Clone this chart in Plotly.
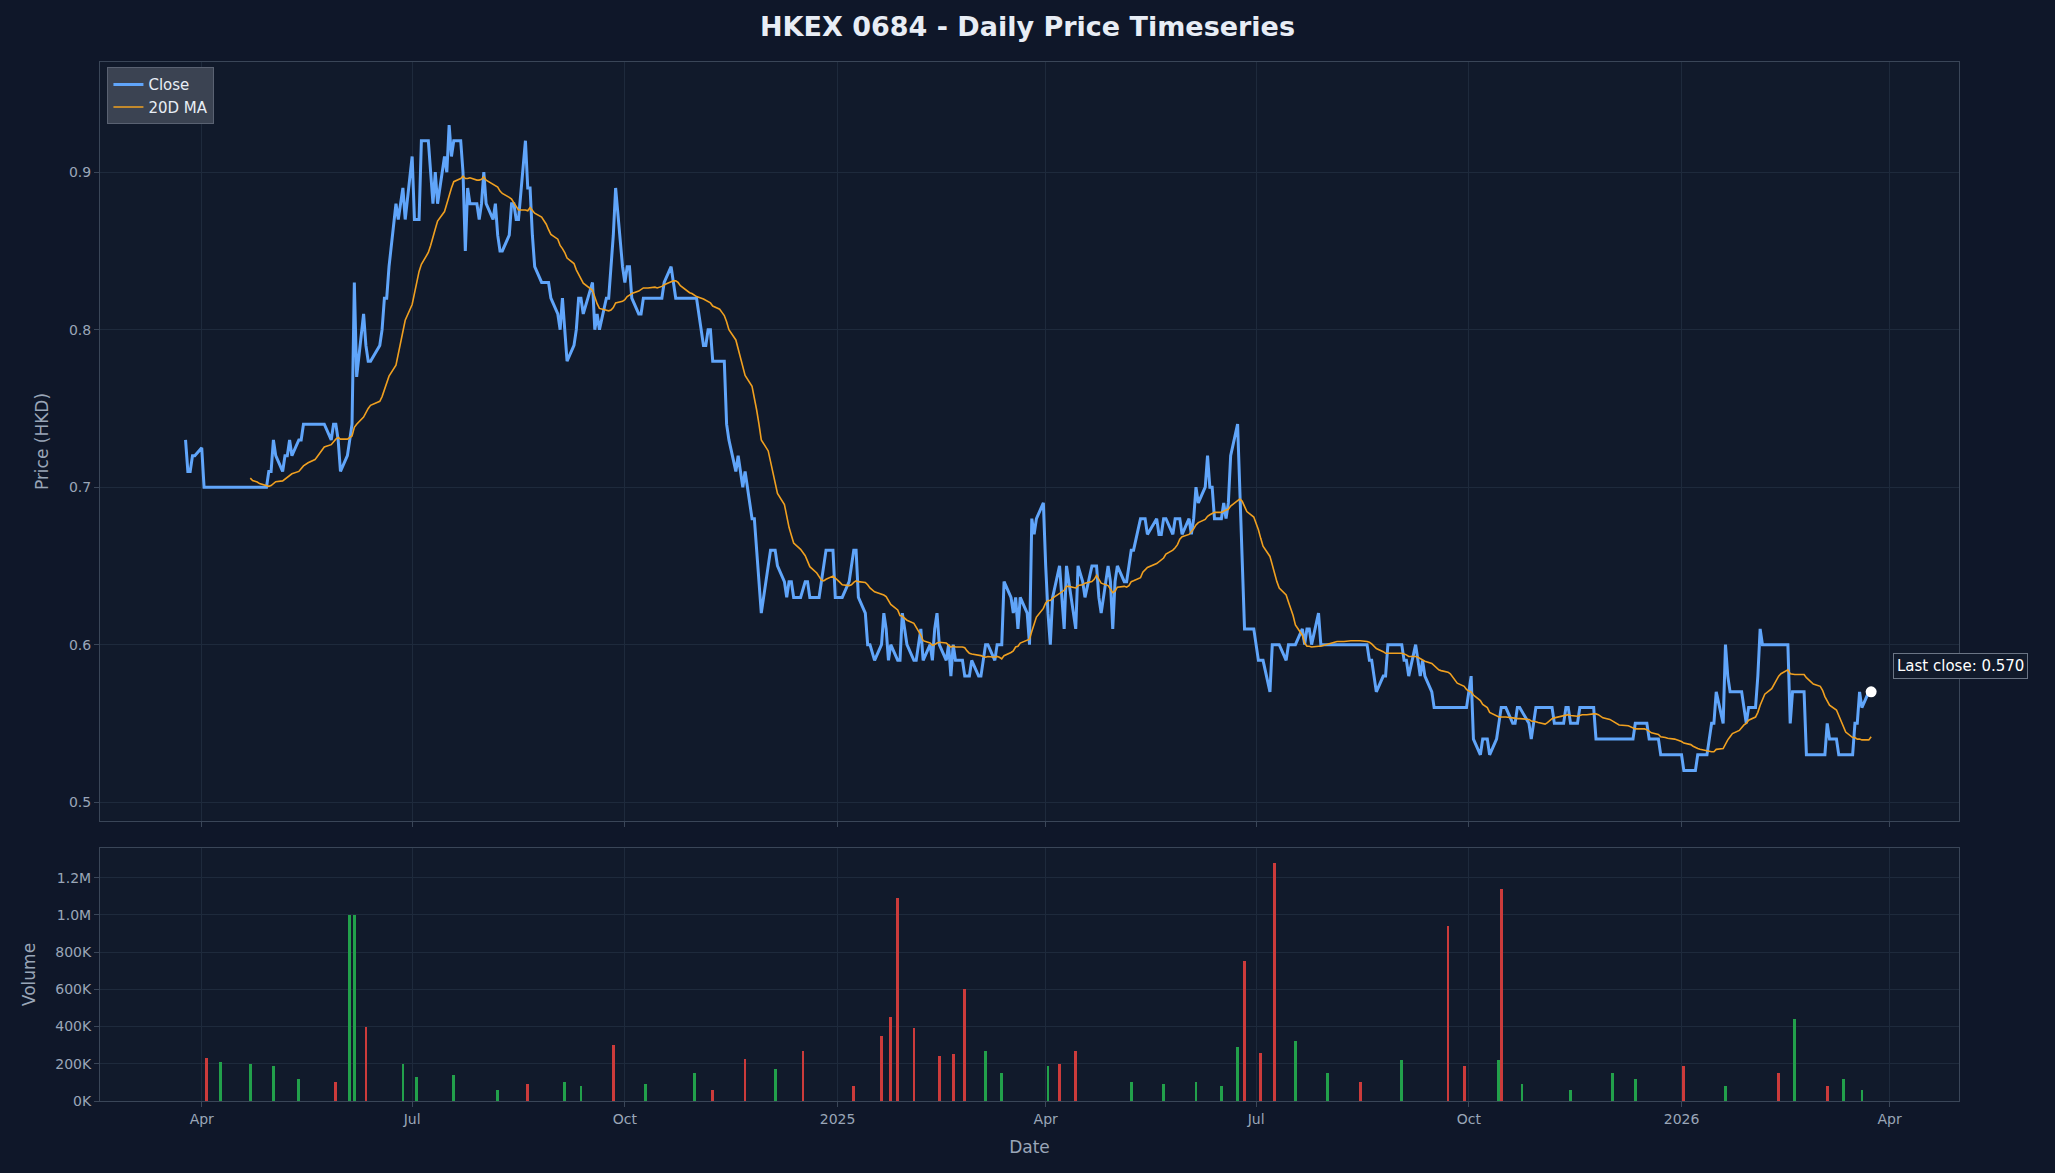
import pandas as pd
import numpy as np
import plotly.graph_objects as go
from plotly.subplots import make_subplots

# monthly blocks of daily closes (HKD)
months = ["2024-03","2024-04","2024-05","2024-06","2024-07","2024-08","2024-09","2024-10","2024-11","2024-12",
          "2025-01","2025-02","2025-03","2025-04","2025-05","2025-06","2025-07","2025-08","2025-09","2025-10","2025-11","2025-12",
          "2026-01","2026-02","2026-03"]
closes = [
 [0.73,0.71,0.71,0.72,0.72],
 [0.725,0.70]+[0.70]*18+[0.71],
 [0.71,0.73,0.72,0.71,0.72,0.72,0.73,0.72,0.73,0.73,0.74,0.74,0.74,0.74,0.74,0.74,0.74,0.73,0.74,0.74,0.73,0.71],
 [0.72,0.73,0.74,0.83,0.77,0.81,0.79,0.78,0.78,0.79,0.80,0.82,0.82,0.84,0.88,0.87,0.88,0.89,0.87],
 [0.91,0.87,0.87,0.87,0.92,0.92,0.90,0.88,0.90,0.88,0.91,0.90,0.93,0.91,0.92,0.92,0.90,0.85,0.89,0.88,0.88,0.87,0.88],
 [0.90,0.88,0.87,0.88,0.86,0.85,0.85,0.86,0.88,0.88,0.87,0.87,0.92,0.89,0.89,0.86,0.84,0.83,0.83,0.83,0.83,0.82],
 [0.81,0.80,0.82,0.80,0.78,0.79,0.80,0.82,0.82,0.81,0.83,0.80,0.81,0.80,0.82,0.82,0.84,0.86,0.89,0.84],
 [0.83,0.84,0.84,0.82,0.81,0.81,0.82,0.82,0.82,0.82,0.82,0.82,0.83,0.84,0.83,0.82,0.82,0.82,0.82,0.82,0.82,0.82],
 [0.82,0.79,0.79,0.80,0.80,0.78,0.78,0.78,0.78,0.74,0.73,0.71,0.72,0.71,0.70,0.71,0.68,0.68,0.66,0.64,0.62],
 [0.65,0.66,0.66,0.66,0.65,0.64,0.63,0.64,0.64,0.63,0.63,0.64,0.64,0.63,0.63,0.63,0.64,0.65,0.66,0.66,0.63],
 [0.63,0.63,0.63,0.64,0.65,0.66,0.66,0.63,0.62,0.60,0.60,0.59,0.60,0.62,0.61,0.59,0.60,0.59,0.59,0.62,0.61,0.60],
 [0.59,0.59,0.60,0.61,0.59,0.60,0.59,0.61,0.62,0.60,0.59,0.60,0.58,0.60,0.59,0.59,0.58,0.58,0.58,0.59],
 [0.58,0.58,0.59,0.60,0.60,0.59,0.60,0.60,0.60,0.64,0.63,0.62,0.63,0.61,0.63,0.62,0.60,0.68,0.67,0.68,0.69],
 [0.65,0.62,0.60,0.63,0.65,0.63,0.61,0.65,0.64,0.61,0.65,0.64,0.63,0.65,0.65,0.65,0.63,0.62,0.65,0.64,0.61],
 [0.64,0.65,0.64,0.64,0.65,0.66,0.66,0.68,0.68,0.68,0.67,0.68,0.67,0.67,0.68,0.68,0.67,0.68,0.68,0.68,0.67],
 [0.68,0.67,0.68,0.70,0.69,0.70,0.72,0.70,0.70,0.68,0.68,0.69,0.68,0.69,0.72,0.74,0.70,0.65,0.61,0.61,0.61],
 [0.60,0.59,0.59,0.59,0.57,0.60,0.60,0.60,0.60,0.59,0.60,0.60,0.60,0.60,0.61,0.60,0.61,0.61,0.60,0.62,0.60,0.60,0.60],
 [0.60,0.60,0.60,0.60,0.60,0.60,0.60,0.60,0.60,0.60,0.60,0.60,0.59,0.59,0.58,0.57,0.58,0.58,0.60,0.60,0.60],
 [0.60,0.60,0.59,0.59,0.58,0.60,0.59,0.58,0.59,0.58,0.57,0.56,0.56,0.56,0.56,0.56,0.56,0.56,0.56,0.56,0.56,0.56],
 [0.57,0.58,0.54,0.53,0.54,0.54,0.53,0.54,0.55,0.56,0.56,0.56,0.55,0.55,0.56,0.56,0.55,0.54,0.55,0.56,0.56],
 [0.56,0.56,0.56,0.56,0.55,0.55,0.55,0.56,0.56,0.55,0.55,0.56,0.56,0.56,0.56,0.56,0.54,0.54,0.54,0.54],
 [0.54,0.54,0.54,0.54,0.54,0.54,0.54,0.54,0.55,0.55,0.55,0.55,0.54,0.54,0.54,0.53,0.53,0.53,0.53,0.53,0.53],
 [0.53,0.52,0.52,0.52,0.52,0.53,0.53,0.53,0.54,0.55,0.55,0.57,0.55,0.60,0.58,0.57,0.57,0.57,0.57,0.56,0.55,0.56],
 [0.56,0.58,0.61,0.60,0.60,0.60,0.60,0.60,0.60,0.60,0.60,0.55,0.57,0.57,0.57,0.57,0.53,0.53,0.53,0.53],
 [0.53,0.53,0.53,0.55,0.54,0.54,0.53,0.53,0.53,0.53,0.53,0.55,0.55,0.57,0.56,0.57,0.57],
]

vol_dates = ["2024-04-03","2024-04-09","2024-04-22","2024-05-02","2024-05-13","2024-05-29","2024-06-04","2024-06-06",
             "2024-06-11","2024-06-27","2024-07-03","2024-07-19","2024-08-07","2024-08-20","2024-09-05","2024-09-12",
             "2024-09-26","2024-10-10","2024-10-31","2024-11-08","2024-11-22","2024-12-05","2024-12-17","2025-01-08",
             "2025-01-20","2025-01-24","2025-01-27","2025-02-03","2025-02-14","2025-02-20","2025-02-25","2025-03-06",
             "2025-03-13","2025-04-02","2025-04-07","2025-04-14","2025-05-08","2025-05-22","2025-06-05","2025-06-16",
             "2025-06-23","2025-06-26","2025-07-03","2025-07-09","2025-07-18","2025-08-01","2025-08-15","2025-09-02",
             "2025-09-22","2025-09-29","2025-10-14","2025-10-15","2025-10-24","2025-11-14","2025-12-02","2025-12-12",
             "2026-01-02","2026-01-20","2026-02-12","2026-02-19","2026-03-05","2026-03-12","2026-03-20"]
vol_values = [230e3,210e3,200e3,190e3,120e3,100e3,1000e3,1000e3,
              400e3,200e3,130e3,140e3,60e3,90e3,100e3,80e3,
              300e3,90e3,150e3,60e3,225e3,170e3,270e3,80e3,
              350e3,450e3,1090e3,390e3,240e3,250e3,600e3,270e3,
              150e3,190e3,200e3,270e3,100e3,90e3,100e3,80e3,
              290e3,750e3,260e3,1280e3,320e3,150e3,100e3,220e3,
              940e3,190e3,220e3,1140e3,90e3,60e3,150e3,120e3,
              190e3,80e3,150e3,440e3,80e3,120e3,60e3]
vol_dir = ["down","up","up","up","up","down","up","up",
           "down","up","up","up","up","down","up","up",
           "down","up","up","down","down","up","down","down",
           "down","down","down","down","down","down","down","up",
           "up","up","down","down","up","up","up","up",
           "up","down","down","down","up","up","down","up",
           "down","down","up","down","up","up","up","up",
           "down","up","down","up","down","up","up"]

dates, vals = [], []
for m, c in zip(months, closes):
    start = pd.Timestamp(m + "-01")
    end = start + pd.offsets.MonthEnd(0)
    if m == "2024-03": start = pd.Timestamp("2024-03-25")
    if m == "2026-03": end = pd.Timestamp("2026-03-24")
    bd = pd.bdate_range(start, end)
    idx = np.round(np.linspace(0, len(bd) - 1, len(c))).astype(int)
    dates += list(bd[idx]); vals += c
s = pd.Series(vals, index=pd.DatetimeIndex(dates))
ma = s.rolling(20).mean()

BG = "#0f1729"; PBG = "#111a2b"; GRID = "#1e2a3c"; TXT = "#9aa6b8"; FR = "#3a4658"
fig = make_subplots(rows=2, cols=1, shared_xaxes=True, row_heights=[0.75, 0.25], vertical_spacing=0.026)
fig.add_trace(go.Scatter(x=s.index, y=s.values, mode="lines", name="Close",
                         line=dict(color="#60a5fa", width=3)), row=1, col=1)
fig.add_trace(go.Scatter(x=ma.index, y=ma.values, mode="lines", name="20D MA",
                         line=dict(color="#f0a020", width=1.6)), row=1, col=1)
fig.add_trace(go.Scatter(x=[s.index[-1]], y=[s.values[-1]], mode="markers", showlegend=False,
                         marker=dict(color="white", size=11)), row=1, col=1)
fig.add_trace(go.Bar(x=pd.to_datetime(vol_dates), y=vol_values, showlegend=False, width=86400000 * 1.2,
                     marker=dict(color=["#22a04b" if d == "up" else "#cc3b3b" for d in vol_dir], line_width=0)),
              row=2, col=1)
fig.add_annotation(x=s.index[-1], y=s.values[-1], text="Last close: 0.570", showarrow=False,
                   xanchor="left", xshift=22, yshift=26, font=dict(color="white", size=15),
                   bgcolor="#111a2b", bordercolor="#6b7585", borderwidth=1, borderpad=3, xref="x", yref="y")
ax = dict(showgrid=True, gridcolor=GRID, showline=True, linecolor=FR, mirror=True, ticks="outside",
          tickcolor=FR, tickfont=dict(color=TXT, size=14), zeroline=False)
rng = ["2024-02-17", "2026-05-01"]
fig.update_xaxes(**ax, range=rng)
fig.update_xaxes(tickvals=pd.to_datetime(["2024-04-01","2024-07-01","2024-10-01","2025-01-01","2025-04-01",
                 "2025-07-01","2025-10-01","2026-01-01","2026-04-01"]),
                 ticktext=["Apr","Jul","Oct","2025","Apr","Jul","Oct","2026","Apr"])
fig.update_xaxes(title=dict(text="Date", font=dict(color=TXT, size=17)), row=2, col=1)
fig.update_yaxes(**ax)
fig.update_yaxes(range=[0.488, 0.97], tickvals=[0.5,0.6,0.7,0.8,0.9], ticktext=["0.5","0.6","0.7","0.8","0.9"],
                 title=dict(text="Price (HKD)", font=dict(color=TXT, size=17)), row=1, col=1)
fig.update_yaxes(range=[0, 1.36e6], tickvals=[0,2e5,4e5,6e5,8e5,1e6,1.2e6],
                 ticktext=["0K","200K","400K","600K","800K","1.0M","1.2M"],
                 title=dict(text="Volume", font=dict(color=TXT, size=17)), row=2, col=1)
fig.update_layout(width=2055, height=1173, paper_bgcolor=BG, plot_bgcolor=PBG,
                  font=dict(family="DejaVu Sans", color=TXT),
                  margin=dict(l=100, r=96, t=62, b=72), bargap=0,
                  title=dict(text="<b>HKEX 0684 - Daily Price Timeseries</b>", x=0.5, y=0.985, yanchor="top",
                             font=dict(size=27, color="#e8edf5")),
                  legend=dict(x=0.004, y=0.995, xanchor="left", yanchor="top", bgcolor="#3b4352",
                              bordercolor="#5a6272", borderwidth=1, font=dict(color="#e8edf5", size=15)))
fig.write_html("out.html", config={"displayModeBar": False})
with open("out.html", encoding="utf-8") as f:
    html = f.read()
html = html.replace("<head>", "<head><style>html,body{margin:0;padding:0;background:#0f1729;}</style>", 1)
with open("out.html", "w", encoding="utf-8") as f:
    f.write(html)
